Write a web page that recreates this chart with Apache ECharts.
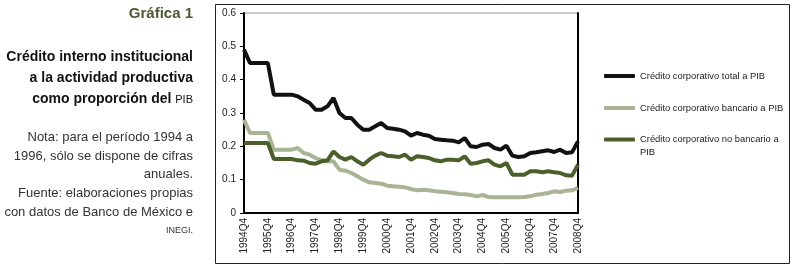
<!DOCTYPE html>
<html>
<head>
<meta charset="utf-8">
<script src="https://cdn.jsdelivr.net/npm/echarts@6/dist/echarts.min.js"></script>
<style>
  html, body { margin: 0; padding: 0; background: #fff; }
  #chart { width: 796px; height: 268px; }
</style>
</head>
<body>
<div id="chart"></div>
<script>
// trimestres 1994Q4 - 2008Q4
var quarters = [
  '1994Q4',
  '1995Q1', '1995Q2', '1995Q3', '1995Q4',
  '1996Q1', '1996Q2', '1996Q3', '1996Q4',
  '1997Q1', '1997Q2', '1997Q3', '1997Q4',
  '1998Q1', '1998Q2', '1998Q3', '1998Q4',
  '1999Q1', '1999Q2', '1999Q3', '1999Q4',
  '2000Q1', '2000Q2', '2000Q3', '2000Q4',
  '2001Q1', '2001Q2', '2001Q3', '2001Q4',
  '2002Q1', '2002Q2', '2002Q3', '2002Q4',
  '2003Q1', '2003Q2', '2003Q3', '2003Q4',
  '2004Q1', '2004Q2', '2004Q3', '2004Q4',
  '2005Q1', '2005Q2', '2005Q3', '2005Q4',
  '2006Q1', '2006Q2', '2006Q3', '2006Q4',
  '2007Q1', '2007Q2', '2007Q3', '2007Q4',
  '2008Q1', '2008Q2', '2008Q3', '2008Q4'
];

var totalPIB = [
  0.49,
  0.45, 0.45, 0.45, 0.45,
  0.355, 0.355, 0.355, 0.355,
  0.35, 0.34, 0.33, 0.31,
  0.31, 0.32, 0.345, 0.30,
  0.285, 0.285, 0.265, 0.25,
  0.25, 0.26, 0.27, 0.255,
  0.253, 0.25, 0.245, 0.232,
  0.24, 0.235, 0.232, 0.222,
  0.22, 0.218, 0.217, 0.212,
  0.225, 0.20, 0.198, 0.205,
  0.207, 0.195, 0.19, 0.202,
  0.172, 0.168, 0.17, 0.18,
  0.182, 0.185, 0.188, 0.183,
  0.19, 0.18, 0.182, 0.215
];

var bancarioPIB = [
  0.28,
  0.24, 0.24, 0.24, 0.24,
  0.19, 0.19, 0.19, 0.19,
  0.195, 0.18, 0.175, 0.165,
  0.158, 0.155, 0.155, 0.13,
  0.127, 0.12, 0.11, 0.10,
  0.092, 0.09, 0.088, 0.082,
  0.08, 0.079, 0.077, 0.072,
  0.068, 0.07, 0.068, 0.065,
  0.064, 0.062, 0.06, 0.057,
  0.056, 0.054, 0.05, 0.054,
  0.048, 0.047, 0.047, 0.047,
  0.047, 0.047, 0.048, 0.05,
  0.055, 0.057, 0.06, 0.065,
  0.063, 0.067, 0.068, 0.075
];

var noBancarioPIB = [
  0.21,
  0.21, 0.21, 0.21, 0.21,
  0.162, 0.162, 0.162, 0.162,
  0.158, 0.157, 0.15, 0.148,
  0.155, 0.158, 0.185, 0.168,
  0.16, 0.168, 0.155, 0.145,
  0.16, 0.172, 0.18, 0.172,
  0.17, 0.168, 0.175, 0.16,
  0.17, 0.168, 0.165, 0.158,
  0.155, 0.16, 0.16, 0.158,
  0.17, 0.148, 0.15, 0.155,
  0.158, 0.145, 0.14, 0.15,
  0.115, 0.115, 0.115, 0.125,
  0.125, 0.122, 0.125, 0.122,
  0.12, 0.113, 0.112, 0.145
];

var seriesNames = [
  'Crédito corporativo total a PIB',
  'Crédito corporativo bancario a PIB',
  'Crédito corporativo no bancario a PIB'
];
var colors = ['#111111', '#a8b493', '#4b5f2b'];

var font = 'Arial, "Liberation Sans", Helvetica, sans-serif';

var chart = echarts.init(document.getElementById('chart'));

var legendBase = {
  orient: 'vertical',
  left: 604,
  padding: 0,
  itemWidth: 31,
  itemHeight: 4,
  itemGap: 20,
  icon: 'roundRect',
  textStyle: { fontSize: 9.4, color: '#222', fontFamily: font, lineHeight: 12 }
};

var option = {
  animation: false,
  textStyle: { fontFamily: font },
  grid: {
    left: 244,
    top: 13,
    right: 218,
    bottom: 55,
    show: true,
    borderColor: '#999',
    borderWidth: 1
  },
  legend: [
    Object.assign({}, legendBase, {
      top: 70,
      data: [seriesNames[0], seriesNames[1]]
    }),
    // la tercera entrada ocupa dos renglones; un renglón vacío arriba
    // deja el icono a la altura del primero
    Object.assign({}, legendBase, {
      top: 120,
      data: [seriesNames[2]],
      textStyle: { fontSize: 9.4, color: '#222', fontFamily: font, lineHeight: 13 },
      formatter: function () { return ' \nCrédito corporativo no bancario a\nPIB'; }
    })
  ],
  xAxis: {
    type: 'category',
    data: quarters,
    boundaryGap: false,
    axisLine: { lineStyle: { color: '#000', width: 2 } },
    axisTick: { show: false },
    axisLabel: {
      interval: 3,
      rotate: 90,
      fontSize: 10,
      color: '#222',
      margin: 5
    },
    splitLine: { show: false }
  },
  yAxis: [{
    type: 'value',
    min: 0,
    max: 0.6,
    interval: 0.1,
    axisLine: { show: true, lineStyle: { color: '#000', width: 2 } },
    axisTick: { show: true, length: 4, lineStyle: { color: '#000' } },
    axisLabel: { fontSize: 10, color: '#222', margin: 8 },
    splitLine: { show: false }
  }, {
    type: 'value',
    position: 'right',
    min: 0,
    max: 0.6,
    axisLine: { show: true, lineStyle: { color: '#000', width: 2 } },
    axisTick: { show: false },
    axisLabel: { show: false },
    splitLine: { show: false }
  }],
  series: [
    {
      name: seriesNames[0], type: 'line', data: totalPIB,
      showSymbol: false, symbol: 'none', color: colors[0],
      lineStyle: { width: 4, color: colors[0] }, z: 3
    },
    {
      name: seriesNames[1], type: 'line', data: bancarioPIB,
      showSymbol: false, symbol: 'none', color: colors[1],
      lineStyle: { width: 4, color: colors[1] }, z: 1
    },
    {
      name: seriesNames[2], type: 'line', data: noBancarioPIB,
      showSymbol: false, symbol: 'none', color: colors[2],
      lineStyle: { width: 4, color: colors[2] }, z: 2
    }
  ],
  graphic: [
    // marco exterior
    {
      type: 'rect',
      shape: { x: 215.5, y: 4.5, width: 574, height: 259 },
      style: { fill: 'none', stroke: '#222', lineWidth: 1 },
      silent: true
    },
    {
      type: 'text',
      right: 603,
      top: 6,
      style: {
        text: 'Gráfica 1',
        fontFamily: font,
        fontSize: 15,
        fontWeight: 'bold',
        fill: '#4a5a30',
        textAlign: 'right'
      }
    },
    {
      type: 'text',
      right: 603,
      top: 47,
      style: {
        text: 'Crédito interno institucional\na la actividad productiva\n{b|como proporción del }{s|PIB}',
        fontFamily: font,
        fontSize: 14,
        fontWeight: 'bold',
        fill: '#111',
        textAlign: 'right',
        lineHeight: 21,
        rich: {
          b: { fontFamily: font, fontSize: 14, fontWeight: 'bold', fill: '#111', lineHeight: 21 },
          s: { fontFamily: font, fontSize: 11, fontWeight: 'normal', fill: '#111', lineHeight: 21 }
        }
      }
    },
    {
      type: 'text',
      right: 603,
      top: 128,
      style: {
        text: 'Nota: para el período 1994 a\n1996, sólo se dispone de cifras\nanuales.\nFuente: elaboraciones propias\ncon datos de Banco de México e\n{s|INEGI.}',
        fontFamily: font,
        fontSize: 13,
        fill: '#333',
        textAlign: 'right',
        lineHeight: 18.7,
        rich: {
          s: { fontFamily: font, fontSize: 9, fill: '#333', lineHeight: 18.7 }
        }
      }
    }
  ]
};

chart.setOption(option);
</script>
</body>
</html>
